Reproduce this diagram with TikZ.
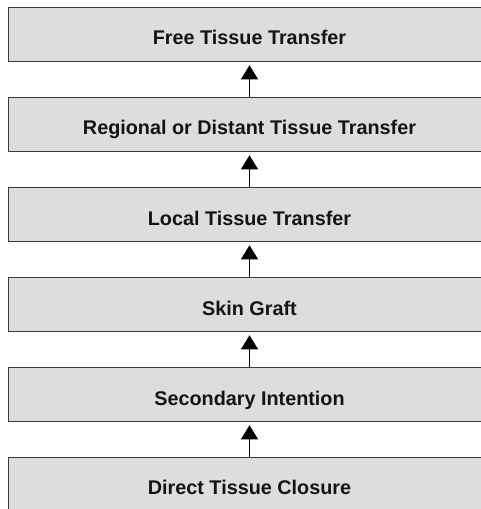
\documentclass[tikz,border=0pt]{standalone}
\usepackage{fontspec}
\setmainfont{Liberation Sans}
\usetikzlibrary{arrows.meta}
\definecolor{boxfill}{HTML}{DCDDDF}
\definecolor{boxline}{HTML}{3A3A3A}
\tikzset{
  stagebox/.style={draw=boxline, line width=1.3bp, fill=boxfill, rectangle,
    minimum width=500bp, minimum height=54bp, inner sep=0pt, anchor=north west},
  stagelbl/.style={anchor=base, inner sep=0pt, font=\fontsize{19.8bp}{22bp}\selectfont\bfseries, text=black!92},
  uparrow/.style={draw=black, line width=1bp, -{Triangle[width=17bp,length=14bp]}}
}
\begin{document}
\begin{tikzpicture}[x=1bp,y=-1bp]
\useasboundingbox (0,0) rectangle (481,509);
\node[stagebox] (b1) at (8,7) {};
\node[stagebox] (b2) at (8,97) {};
\node[stagebox] (b3) at (8,187) {};
\node[stagebox] (b4) at (8,277) {};
\node[stagebox] (b5) at (8,367) {};
\node[stagebox, minimum height=70bp] (b6) at (8,457) {};
\node[stagelbl] (t1) at (249.5,45) {Free Tissue Transfer};
\node[stagelbl] (t2) at (249.5,135) {Regional or Distant Tissue Transfer};
\node[stagelbl] (t3) at (249.5,225) {Local Tissue Transfer};
\node[stagelbl] (t4) at (249.5,315) {Skin Graft};
\node[stagelbl] (t5) at (249.5,405) {Secondary Intention};
\node[stagelbl] (t6) at (249.5,494) {Direct Tissue Closure};
\draw[uparrow] (t2 |- b2.north) -- ([yshift=-3bp]t1 |- b1.south);
\draw[uparrow] (t3 |- b3.north) -- ([yshift=-3bp]t2 |- b2.south);
\draw[uparrow] (t4 |- b4.north) -- ([yshift=-3bp]t3 |- b3.south);
\draw[uparrow] (t5 |- b5.north) -- ([yshift=-3bp]t4 |- b4.south);
\draw[uparrow] (t6 |- b6.north) -- ([yshift=-3bp]t5 |- b5.south);
\end{tikzpicture}
\end{document}
